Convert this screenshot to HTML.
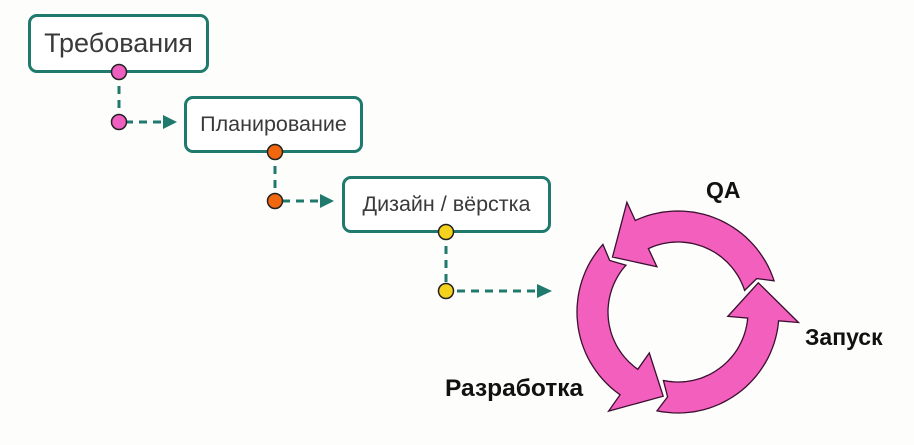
<!DOCTYPE html>
<html><head><meta charset="utf-8"><style>
html,body{margin:0;padding:0;background:#fdfdfc;}
body{width:914px;height:445px;overflow:hidden;position:relative;font-family:"Liberation Sans",sans-serif;}
.box{position:absolute;border:3px solid #1f7a6d;border-radius:9px;background:#fff;box-sizing:border-box;color:#3a3a3a;display:flex;align-items:center;justify-content:center;white-space:nowrap;}
.lbl{position:absolute;font-weight:bold;font-size:23px;color:#111;}
</style></head><body>
<div class="box" style="left:28px;top:14px;width:181px;height:59px;font-size:27px;">Требования</div>
<div class="box" style="left:184px;top:96px;width:179px;height:57px;font-size:21.5px;">Планирование</div>
<div class="box" style="left:342px;top:176px;width:209px;height:57px;font-size:21.5px;">Дизайн / вёрстка</div>
<svg width="914" height="445" style="position:absolute;left:0;top:0">
<g stroke="#1f7a6d" stroke-width="3" stroke-dasharray="8,6" fill="none">
<path d="M119 72 V122 H165"/>
<path d="M275 152 V201 H322"/>
<path d="M446 232 V291 H538"/>
</g>
<g fill="#1f7a6d">
<polygon points="163,115 177,122 163,129"/>
<polygon points="320,194 334,201 320,208"/>
<polygon points="537,284 552,291 537,298"/>
</g>
<g stroke="#222" stroke-width="1.5">
<circle cx="119" cy="72" r="7.5" fill="#ef5fbf"/>
<circle cx="119" cy="122" r="7.5" fill="#ef5fbf"/>
<circle cx="275" cy="152" r="7.5" fill="#f0670f"/>
<circle cx="275" cy="201" r="7.5" fill="#f0670f"/>
<circle cx="446" cy="232" r="7.5" fill="#f5d21c"/>
<circle cx="446" cy="291" r="7.5" fill="#f5d21c"/>
</g>
<g id="ring" fill="#f25fbd" stroke="#3a1030" stroke-width="1.3"></g>
</svg>
<div class="lbl" style="left:706px;top:177px;">QA</div>
<div class="lbl" style="left:805px;top:324px;">Запуск</div>
<div class="lbl" style="left:445px;top:375px;font-size:24.5px;">Разработка</div>
<script>
(function(){
var cx=678,cy=312,ri=70,ro=101,hi=50,ho=121;
function p(r,a){a=a*Math.PI/180;return (cx+r*Math.cos(a)).toFixed(1)+","+(cy-r*Math.sin(a)).toFixed(1);}
function arc(r,a1,a2){var s="",st=a1<a2?3:-3;for(var a=a1;(st>0?a<=a2:a>=a2);a+=st)s+=" L"+p(r,a);s+=" L"+p(r,a2);return s;}
var g=document.getElementById("ring"),out="";
[18,138,258].forEach(function(a){
 var b=a+97,t=a+122;
 var d="M"+p(ro,a)+arc(ro,a,b)+" L"+p(ho,b)+" L"+p((ri+ro)/2,t)+" L"+p(hi,b)+arc(ri,b,a)+" L"+p((ri+ro)/2,a+5)+" Z";
 out+='<path d="'+d+'"/>';
});
g.innerHTML=out;
})();
</script>
</body></html>
